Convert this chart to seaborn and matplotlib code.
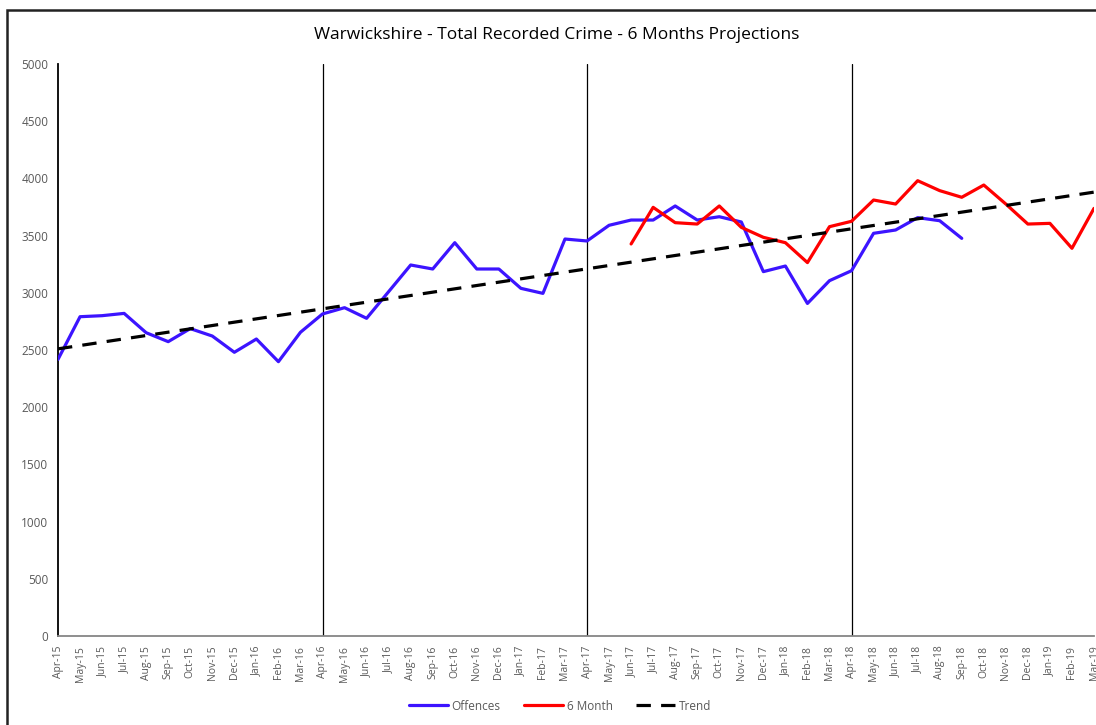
import matplotlib
matplotlib.use("Agg")
import matplotlib.pyplot as plt
import matplotlib.patches as mpatches
import numpy as np
import pandas as pd
import seaborn as sns

sns.set_style("white")
plt.rcParams['font.family'] = ['Liberation Sans Narrow', 'Open Sans', 'DejaVu Sans']

MONTHS = ["Apr-15", "May-15", "Jun-15", "Jul-15", "Aug-15", "Sep-15", "Oct-15", "Nov-15",
          "Dec-15", "Jan-16", "Feb-16", "Mar-16", "Apr-16", "May-16", "Jun-16", "Jul-16",
          "Aug-16", "Sep-16", "Oct-16", "Nov-16", "Dec-16", "Jan-17", "Feb-17", "Mar-17",
          "Apr-17", "May-17", "Jun-17", "Jul-17", "Aug-17", "Sep-17", "Oct-17", "Nov-17",
          "Dec-17", "Jan-18", "Feb-18", "Mar-18", "Apr-18", "May-18", "Jun-18", "Jul-18",
          "Aug-18", "Sep-18", "Oct-18", "Nov-18", "Dec-18", "Jan-19", "Feb-19", "Mar-19"]

OFFENCES = [2418, 2791, 2800, 2820, 2651, 2573, 2687, 2622, 2480, 2596, 2398, 2655,
            2815, 2870, 2777, 3010, 3243, 3208, 3438, 3208, 3208, 3039, 2995, 3470,
            3453, 3590, 3636, 3636, 3759, 3636, 3665, 3619, 3185, 3234, 2907, 3106,
            3193, 3520, 3549, 3657, 3630, 3476]

SIX_MONTH_START = "Jun-17"
SIX_MONTH = [3427, 3747, 3613, 3601, 3759, 3572, 3485, 3438, 3264, 3578,
             3625, 3811, 3776, 3980, 3893, 3835, 3942, 3776, 3601, 3607, 3389, 3738]

# trend line end points (Excel linear trend)
TREND_MONTHS = ["Apr-15", "Mar-19"]
TREND = [2510, 3880]

YEAR_MARKERS = ["Apr-16", "Apr-17", "Apr-18"]

BLUE = "#3C14FF"
RED = "#FF0000"
GREY_TXT = "#595959"

idx = {m: i for i, m in enumerate(MONTHS)}
s6 = idx[SIX_MONTH_START]

df_off = pd.DataFrame({"x": np.arange(len(OFFENCES)), "y": OFFENCES})
df_six = pd.DataFrame({"x": np.arange(s6, s6 + len(SIX_MONTH)), "y": SIX_MONTH})
df_trend = pd.DataFrame({"x": [idx[m] for m in TREND_MONTHS], "y": TREND})

fig = plt.figure(figsize=(10.96, 7.25), dpi=100)
ax = fig.add_axes([58 / 1096, 1 - 636 / 725, (1094 - 58) / 1096, (636 - 64) / 725])

# chart area border
fig.patches.append(mpatches.Rectangle((7 / 1096, -0.05), 1.2, 1 - 9.5 / 725 + 0.05,
                                      transform=fig.transFigure, fill=False,
                                      edgecolor="#222222", linewidth=1.8))

for m in YEAR_MARKERS:
    ax.axvline(idx[m], color="black", linewidth=0.9, zorder=1)

sns.lineplot(data=df_off, x="x", y="y", color=BLUE, linewidth=2.3, ax=ax, label="Offences", zorder=3)
sns.lineplot(data=df_six, x="x", y="y", color=RED, linewidth=2.3, ax=ax, label="6 Month", zorder=4)
sns.lineplot(data=df_trend, x="x", y="y", color="black", linewidth=2.3, ax=ax, label="Trend",
             zorder=5, dashes=False)
ax.lines[-1].set_dashes([4.5, 3.2])

ax.set_xlim(0, len(MONTHS) - 1)
ax.set_ylim(0, 5000)
ax.set_yticks(np.arange(0, 5001, 500))
ax.set_xticks(np.arange(len(MONTHS)))
ax.set_xticklabels(MONTHS, rotation=90)
ax.set_xlabel("")
ax.set_ylabel("")
ax.tick_params(axis="both", direction="out", length=4, width=1,
               labelcolor=GREY_TXT, pad=3)
ax.tick_params(axis="x", color="#868686", labelsize=7.5)
ax.tick_params(axis="y", color="black", labelsize=8.5)

for s in ["top", "right"]:
    ax.spines[s].set_visible(False)
ax.spines["left"].set_color("black")
ax.spines["left"].set_linewidth(1.3)
ax.spines["bottom"].set_color("#868686")
ax.spines["bottom"].set_linewidth(1.3)

fig.text(557 / 1096, 1 - 35 / 725, "Warwickshire - Total Recorded Crime - 6 Months Projections",
         ha="center", va="center", fontsize=12.5, color="black")

leg = ax.legend(loc="center", bbox_to_anchor=(560 / 1096, 1 - 706 / 725),
                bbox_transform=fig.transFigure, ncol=3, frameon=False, fontsize=8.5,
                handlelength=3.3, handletextpad=0.3, columnspacing=2.0)
for t in leg.get_texts():
    t.set_color(GREY_TXT)

fig.savefig("out.png", dpi=100)
